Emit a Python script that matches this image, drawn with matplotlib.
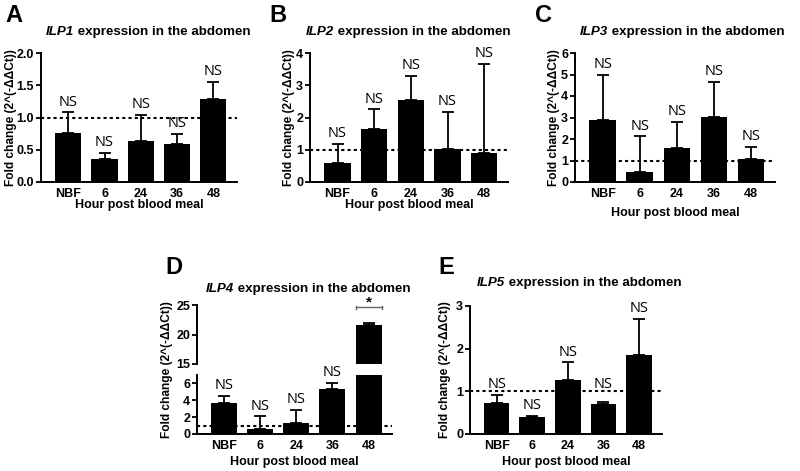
import matplotlib.pyplot as plt
from matplotlib.offsetbox import TextArea, HPacker, AnnotationBbox

plt.rcParams['font.family'] = ['Liberation Sans', 'DejaVu Sans']

# categories
hours = ['NBF', '6', '24', '36', '48']

# mean fold change and upper error (SEM)
ilp1_mean = [0.76, 0.36, 0.64, 0.59, 1.29]
ilp1_err = [0.32, 0.09, 0.40, 0.15, 0.26]

ilp2_mean = [0.60, 1.65, 2.53, 1.02, 0.91]
ilp2_err = [0.58, 0.60, 0.77, 1.15, 2.76]

ilp3_mean = [2.90, 0.46, 1.57, 3.03, 1.06]
ilp3_err = [2.07, 1.66, 1.21, 1.62, 0.59]

ilp4_mean = [3.70, 0.55, 1.30, 5.30, 21.6]
ilp4_err = [0.80, 1.55, 1.60, 0.80, 0.35]

ilp5_mean = [0.72, 0.40, 1.26, 0.71, 1.85]
ilp5_err = [0.19, 0.03, 0.42, 0.04, 0.84]

ylabel = 'Fold change (2^(-\u0394\u0394Ct))'
xlabel = 'Hour post blood meal'

W, H = 800, 471
fig = plt.figure(figsize=(8, 4.71), dpi=100)


def px(x, y):
    # pixel (from top-left) to figure fraction
    return x / W, 1 - y / H


def make_ax(left, right, top, bottom):
    l, t = px(left, top)
    r, b = px(right, bottom)
    return fig.add_axes([l, b, r - l, t - b])


def style(ax, bottom_axis=True):
    for s in ['top', 'right']:
        ax.spines[s].set_visible(False)
    ax.spines['left'].set_linewidth(1.4)
    ax.spines['bottom'].set_linewidth(1.4)
    ax.tick_params(width=1.3, length=3.5, labelsize=9, pad=1.5)
    for lab in ax.get_yticklabels():
        lab.set_fontweight('bold')
    ax.set_xlim(-0.75, 4.65)
    if bottom_axis:
        ax.set_xticks(range(len(hours)))
        ax.set_xticklabels(hours, fontweight='bold', fontsize=9)
        ax.tick_params(axis='x', length=0, pad=4)
    else:
        ax.spines['bottom'].set_visible(False)
        ax.set_xticks([])


def ns_label(ax, x, y):
    ax.annotate('NS', (x, y), xytext=(0, 2), textcoords='offset points',
                ha='center', va='bottom', fontsize=10.5, family='Open Sans',
                annotation_clip=False)


def bars(ax, mean, err, ns=True, ns_y=None):
    x = range(len(hours))
    ax.bar(x, mean, width=0.72, color='black')
    ax.errorbar(x, mean, yerr=[[0] * len(err), err], fmt='none', ecolor='black',
                elinewidth=1.3, capsize=4.5, capthick=1.3)
    ax.axhline(1, color='black', linestyle=(0, (1.5, 1.5)), linewidth=1.5, zorder=0.5)
    if ns:
        ns_y = ns_y or {}
        for i, (m, e) in enumerate(zip(mean, err)):
            ns_label(ax, i, ns_y.get(i, m + e))


def title(gene, x, y):
    t1 = TextArea(gene, textprops=dict(fontsize=9.6, fontweight='bold', fontstyle='italic'))
    t2 = TextArea(' expression in the abdomen', textprops=dict(fontsize=9.6, fontweight='bold'))
    box = HPacker(children=[t1, t2], pad=0, sep=0, align='baseline')
    ab = AnnotationBbox(box, px(x, y), xycoords='figure fraction', frameon=False,
                        box_alignment=(0.5, 0.5), pad=0)
    fig.add_artist(ab)


def letter(s, x, y):
    fx, fy = px(x, y)
    fig.text(fx, fy, s, fontsize=17, fontweight='bold', ha='center', va='center')


def side_labels(ax_left, ax_right, ytop, ybot, ylab_x, xlab_y):
    fx, fy = px(ylab_x, (ytop + ybot) / 2)
    fig.text(fx, fy, ylabel, rotation=90, fontsize=8.6, fontweight='bold', ha='center', va='center')
    fx, fy = px((ax_left + ax_right) / 2, xlab_y)
    fig.text(fx, fy, xlabel, fontsize=9, fontweight='bold', ha='center', va='center')


# Panel A
axA = make_ax(41, 237, 53, 182)
bars(axA, ilp1_mean, ilp1_err)
axA.set_ylim(0, 2.0)
axA.set_yticks([0, 0.5, 1.0, 1.5, 2.0])
axA.set_yticklabels(['0.0', '0.5', '1.0', '1.5', '2.0'])
style(axA)
title('ILP1', 148, 32)
letter('A', 14, 15)
side_labels(41, 237, 53, 182, 11, 205)

# Panel B
axB = make_ax(310, 508, 53, 182)
bars(axB, ilp2_mean, ilp2_err)
axB.set_ylim(0, 4)
axB.set_yticks([0, 1, 2, 3, 4])
style(axB)
title('ILP2', 408, 32)
letter('B', 278, 15)
side_labels(310, 508, 53, 182, 289, 205)

# Panel C
axC = make_ax(575, 775, 53, 182)
bars(axC, ilp3_mean, ilp3_err)
axC.set_ylim(0, 6)
axC.set_yticks([0, 1, 2, 3, 4, 5, 6])
style(axC)
title('ILP3', 682, 32)
letter('C', 543, 15)
side_labels(575, 775, 53, 182, 554, 213)

# Panel D (broken y axis)
axD = make_ax(197, 392, 375, 434)
axD_top = make_ax(197, 392, 305, 364)
bars(axD, ilp4_mean, [e if i < 4 else 0 for i, e in enumerate(ilp4_err)], ns=False)
for i in range(4):
    ns_label(axD, i, ilp4_mean[i] + ilp4_err[i])
axD.set_ylim(0, 7)
axD.set_yticks([0, 2, 4, 6])
style(axD)
axD_top.bar(range(len(hours)), ilp4_mean, width=0.72, color='black')
axD_top.errorbar([4], [ilp4_mean[4]], yerr=[[0], [ilp4_err[4]]], fmt='none', ecolor='black',
                 elinewidth=1.3, capsize=4.5, capthick=1.3)
axD_top.set_ylim(15, 25)
axD_top.set_yticks([15, 20, 25])
style(axD_top, bottom_axis=False)
# significance bracket over 48 h
axD_top.plot([3.64, 4.36], [24.6, 24.6], color='#666666', lw=1.0, clip_on=False)
axD_top.plot([3.64, 3.64], [24.3, 24.9], color='#666666', lw=1.0, clip_on=False)
axD_top.plot([4.36, 4.36], [24.3, 24.9], color='#666666', lw=1.0, clip_on=False)
axD_top.text(4, 24.75, '*', ha='center', va='baseline', fontsize=11, fontweight='bold')
title('ILP4', 308, 289)
letter('D', 174, 268)
side_labels(197, 392, 305, 434, 167, 462)

# Panel E
axE = make_ax(470, 662, 306, 434)
bars(axE, ilp5_mean, ilp5_err, ns_y={3: ilp5_mean[0] + ilp5_err[0]})
axE.set_ylim(0, 3)
axE.set_yticks([0, 1, 2, 3])
style(axE)
title('ILP5', 579, 283)
letter('E', 446, 268)
side_labels(470, 662, 306, 434, 445, 462)

fig.savefig('out.png', dpi=100)
